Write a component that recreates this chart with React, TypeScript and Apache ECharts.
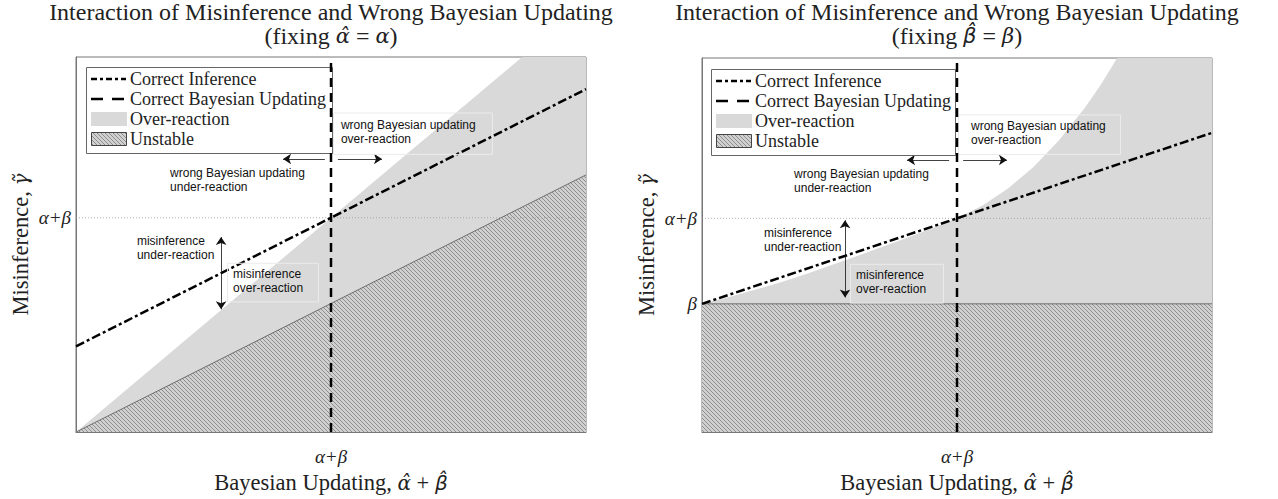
import React, { useEffect, useRef } from "react";
import * as echarts from "echarts";

// ---------- data ----------
const X_MIN = 0;
const X_MAX = 2;
const Y_MIN = 0;
const Y_MAX = 1.75;

const X_TICK_VALUES = [1];
const X_TICK_LABELS = ["α+β"];
const LEFT_Y_TICK_VALUES = [1];
const LEFT_Y_TICK_LABELS = ["α+β"];
const RIGHT_Y_TICK_VALUES = [0.6, 1];
const RIGHT_Y_TICK_LABELS = ["β", "α+β"];

const BAYES_VALUE = 1; // α+β on the x axis
const REFERENCE_VALUE = 1; // α+β on the y axis

const LEFT_INFERENCE_X = [0, 2];
const LEFT_INFERENCE_Y = [0.4, 1.6];
const LEFT_OVER_X = [0, 1.75, 2];
const LEFT_OVER_Y = [0, 1.75, 1.75];
const LEFT_UNSTABLE_X = [0, 2];
const LEFT_UNSTABLE_Y = [0, 1.2];

const RIGHT_INFERENCE_X = [0, 2];
const RIGHT_INFERENCE_Y = [0.6, 1.4];
const RIGHT_OVER_X = [0, 0.1, 0.2, 0.3, 0.4, 0.5, 0.6, 0.7, 0.8, 0.9, 1.0, 1.1, 1.2, 1.3, 1.4, 1.5, 1.56, 1.6, 1.628, 2];
const RIGHT_OVER_Y = [0.6, 0.63, 0.663, 0.698, 0.736, 0.778, 0.82, 0.863, 0.907, 0.953, 1.0, 1.06, 1.14, 1.24, 1.365, 1.515, 1.618, 1.695, 1.75, 1.75];
const RIGHT_UNSTABLE_X = [0, 2];
const RIGHT_UNSTABLE_Y = [0.6, 0.6];

const TITLES = [
  "Interaction of Misinference and Wrong Bayesian Updating\n(fixing {m|\u03B1\u0302} = {m|\u03B1})",
  "Interaction of Misinference and Wrong Bayesian Updating\n(fixing {s|\u03B2\u0302} = {m|\u03B2})",
];
const X_NAME = "Bayesian Updating, {m|\u03B1\u0302} + {s|\u03B2\u0302}";
const Y_NAME = "Misinference, {m|\u03B3\u0303}";
const LEGEND_LABELS = ["Correct Inference", "Correct Bayesian Updating", "Over-reaction", "Unstable"];

const ANNOT_TEXTS = [
  "wrong Bayesian updating\nover-reaction",
  "wrong Bayesian updating\nunder-reaction",
  "misinference\nunder-reaction",
  "misinference\nover-reaction",
];
// anchor (top-left) of each annotation, in data coordinates, per panel
const LEFT_ANNOT_X = [1.039, 0.369, 0.239, 0.616];
const LEFT_ANNOT_Y = [1.464, 1.242, 0.923, 0.771];
const RIGHT_ANNOT_X = [1.055, 0.361, 0.243, 0.604];
const RIGHT_ANNOT_Y = [1.463, 1.241, 0.963, 0.769];
// light frames around two annotations: [x0, y0, x1, y1]
const LEFT_FRAMES = [
  [1.008, 1.491, 1.631, 1.298],
  [0.592, 0.79, 0.949, 0.61],
];
const RIGHT_FRAMES = [
  [1.004, 1.486, 1.639, 1.301],
  [0.58, 0.787, 0.945, 0.606],
];
// arrows: [x0, y0, x1, y1, doubleHeaded]
const LEFT_ARROWS = [
  [0.976, 1.274, 0.812, 1.274, 0],
  [1.027, 1.274, 1.2, 1.274, 0],
  [0.569, 0.91, 0.569, 0.573, 1],
];
const RIGHT_ARROWS = [
  [0.969, 1.273, 0.804, 1.273, 0],
  [1.024, 1.273, 1.196, 1.273, 0],
  [0.561, 0.991, 0.561, 0.63, 1],
];

// ---------- layout ----------
const GRIDS = [
  { left: 76, top: 57, width: 510, height: 379 },
  { left: 702, top: 58, width: 510, height: 378 },
];
const LEGEND_BOX = [
  { x: 86, y: 67, w: 246, h: 86 },
  { x: 711, y: 69, w: 244, h: 86 },
];

const SERIF = "'Liberation Serif', 'Times New Roman', serif";
const MATH = "'DejaVu Serif', serif";
const MATH_B = "'DejaVu Sans', sans-serif";
const SANS = "'Liberation Sans', Arial, Helvetica, sans-serif";
const OVER_COLOR = "#d9d9d9";

const zip = (xs: number[], ys: number[]) => xs.map((x, i) => [x, ys[i]]);

function makeHatch(): HTMLCanvasElement {
  const c = document.createElement("canvas");
  c.width = 4;
  c.height = 4;
  const ctx = c.getContext("2d")!;
  ctx.fillStyle = "#d0d0d0";
  ctx.fillRect(0, 0, 4, 4);
  ctx.fillStyle = "#8e8e8e";
  for (let i = 0; i < 4; i++) ctx.fillRect(i, i, 1, 1);
  return c;
}

const labelFor = (values: number[], labels: string[]) => (v: number) => {
  for (let i = 0; i < values.length; i++) if (Math.abs(values[i] - v) < 1e-6) return labels[i];
  return "";
};

export default function App() {
  const ref = useRef<HTMLDivElement>(null);

  useEffect(() => {
    document.body.style.margin = "0";
    if (!ref.current) return;
    const chart = echarts.init(ref.current, undefined, { renderer: "svg" });
    const hatch = { image: makeHatch(), repeat: "repeat" };

    const panels = [
      {
        inf: zip(LEFT_INFERENCE_X, LEFT_INFERENCE_Y),
        over: zip(LEFT_OVER_X, LEFT_OVER_Y),
        unst: zip(LEFT_UNSTABLE_X, LEFT_UNSTABLE_Y),
        yVals: LEFT_Y_TICK_VALUES,
        yLabs: LEFT_Y_TICK_LABELS,
        arrows: LEFT_ARROWS,
      },
      {
        inf: zip(RIGHT_INFERENCE_X, RIGHT_INFERENCE_Y),
        over: zip(RIGHT_OVER_X, RIGHT_OVER_Y),
        unst: zip(RIGHT_UNSTABLE_X, RIGHT_UNSTABLE_Y),
        yVals: RIGHT_Y_TICK_VALUES,
        yLabs: RIGHT_Y_TICK_LABELS,
        arrows: RIGHT_ARROWS,
      },
    ];

    const series: any[] = [];
    panels.forEach((p, i) => {
      const base = { type: "line", xAxisIndex: i, yAxisIndex: i, showSymbol: false, symbol: "none", silent: true };
      series.push({
        ...base,
        name: "Over-reaction",
        data: p.over,
        lineStyle: { width: 0 },
        areaStyle: { color: OVER_COLOR, opacity: 1 },
        z: 1,
      });
      series.push({
        ...base,
        name: "Unstable",
        data: p.unst,
        lineStyle: { color: "#555", width: 0.8 },
        areaStyle: { color: hatch, opacity: 1 },
        z: 2,
      });
      series.push({
        ...base,
        name: "reference",
        data: [
          [X_MIN, REFERENCE_VALUE],
          [X_MAX, REFERENCE_VALUE],
        ],
        lineStyle: { color: "#999", width: 0.8, type: [1, 2] },
        z: 3,
        markLine: {
          silent: true,
          symbolSize: [8, 8],
          label: { show: false },
          lineStyle: { color: "#111", width: 0.8, type: "solid" },
          data: p.arrows.map((a) => [
            { coord: [a[0], a[1]], symbol: a[4] ? "arrow" : "none" },
            { coord: [a[2], a[3]], symbol: "arrow" },
          ]),
        },
      });
      series.push({
        ...base,
        name: "Correct Inference",
        data: p.inf,
        lineStyle: { color: "#000", width: 2.5, type: [9, 3, 3, 3] },
        z: 4,
      });
      series.push({
        ...base,
        name: "Correct Bayesian Updating",
        data: [
          [BAYES_VALUE, Y_MIN],
          [BAYES_VALUE, Y_MAX],
        ],
        lineStyle: { color: "#000", width: 2.5, type: [9, 6] },
        z: 20,
      });
    });

    const mathRich = (size: number) => ({
      m: { fontFamily: MATH, fontStyle: "italic", fontSize: size, color: "#222", fill: "#222" },
      s: { fontFamily: MATH_B, fontStyle: "italic", fontSize: size, color: "#222", fill: "#222" },
    });

    const nameStyle = {
      fontFamily: SERIF,
      fontSize: 22.5,
      color: "#222",
      rich: mathRich(20),
    };

    const xAxis = GRIDS.map((_, i) => ({
      type: "value",
      gridIndex: i,
      min: X_MIN,
      max: X_MAX,
      splitLine: { show: false },
      axisTick: { show: false },
      axisLine: { show: true, lineStyle: { color: "#777", width: 1 } },
      axisLabel: {
        customValues: X_TICK_VALUES,
        formatter: labelFor(X_TICK_VALUES, X_TICK_LABELS),
        fontFamily: SERIF,
        fontStyle: "italic",
        fontSize: 19,
        color: "#222",
        margin: 15,
      },
      name: X_NAME,
      nameLocation: "middle",
      nameGap: 33,
      nameTextStyle: nameStyle,
    }));
    const yAxis = GRIDS.map((_, i) => ({
      type: "value",
      gridIndex: i,
      min: Y_MIN,
      max: Y_MAX,
      splitLine: { show: false },
      axisTick: { show: false },
      axisLine: { show: true, lineStyle: { color: "#777", width: 1 } },
      axisLabel: {
        customValues: panels[i].yVals,
        formatter: labelFor(panels[i].yVals, panels[i].yLabs),
        fontFamily: SERIF,
        fontStyle: "italic",
        fontSize: 19,
        color: "#222",
        margin: 5,
      },
      name: Y_NAME,
      nameLocation: "middle",
      nameGap: 44,
      nameTextStyle: nameStyle,
    }));

    chart.setOption({
      animation: false,
      backgroundColor: "#fff",
      grid: GRIDS.map((g) => ({
        ...g,
        show: true,
        borderColor: "#777",
        borderWidth: 1,
        backgroundColor: "transparent",
      })),
      xAxis,
      yAxis,
      series,
    });

    // graphic elements (titles, legends, annotations)
    const graphics: any[] = [];
    GRIDS.forEach((g, i) => {
      graphics.push({
        type: "text",
        x: g.left + g.width / 2,
        y: 0,
        z: 30,
        silent: true,
        style: {
          text: TITLES[i],
          font: `24px ${SERIF}`,
          lineHeight: 24,
          fill: "#222",
          align: "center",
          verticalAlign: "top",
          rich: mathRich(21),
        },
      });
      // legend
      const b = LEGEND_BOX[i];
      const ix0 = b.x + 5;
      const ix1 = b.x + 40;
      const tx = b.x + 44;
      const rows = [b.y + 12, b.y + 32, b.y + 52, b.y + 72];
      graphics.push({
        type: "rect",
        z: 10,
        silent: true,
        shape: { x: b.x + 0.5, y: b.y + 0.5, width: b.w, height: b.h },
        style: { fill: "#fff", stroke: "#666", lineWidth: 1 },
      });
      graphics.push({
        type: "line",
        z: 11,
        silent: true,
        shape: { x1: ix0, y1: rows[0], x2: ix1, y2: rows[0] },
        style: { stroke: "#000", lineWidth: 2.5, lineDash: [6, 3, 3, 3] },
      });
      graphics.push({
        type: "line",
        z: 11,
        silent: true,
        shape: { x1: ix0, y1: rows[1], x2: ix1, y2: rows[1] },
        style: { stroke: "#000", lineWidth: 2.5, lineDash: [12, 9] },
      });
      graphics.push({
        type: "rect",
        z: 11,
        silent: true,
        shape: { x: ix0, y: rows[2] - 7, width: 36, height: 14 },
        style: { fill: OVER_COLOR },
      });
      graphics.push({
        type: "rect",
        z: 11,
        silent: true,
        shape: { x: ix0 + 0.5, y: rows[3] - 6.5, width: 35, height: 13 },
        style: { fill: hatch, stroke: "#444", lineWidth: 1 },
      });
      LEGEND_LABELS.forEach((t, k) => {
        graphics.push({
          type: "text",
          z: 12,
          silent: true,
          x: tx,
          y: rows[k],
          style: { text: t, font: `18px ${SERIF}`, fill: "#222", verticalAlign: "middle", align: "left" },
        });
      });
      // annotations
      const ax = i === 0 ? LEFT_ANNOT_X : RIGHT_ANNOT_X;
      const ay = i === 0 ? LEFT_ANNOT_Y : RIGHT_ANNOT_Y;
      ANNOT_TEXTS.forEach((t, k) => {
        const pt = chart.convertToPixel({ gridIndex: i }, [ax[k], ay[k]]) as number[];
        graphics.push({
          type: "text",
          z: 12,
          silent: true,
          x: pt[0],
          y: pt[1],
          style: { text: t, font: `12px ${SANS}`, lineHeight: 14, fill: "#111", align: "left", verticalAlign: "top" },
        });
      });
      const frames = i === 0 ? LEFT_FRAMES : RIGHT_FRAMES;
      frames.forEach((f) => {
        const p0 = chart.convertToPixel({ gridIndex: i }, [f[0], f[1]]) as number[];
        const p1 = chart.convertToPixel({ gridIndex: i }, [f[2], f[3]]) as number[];
        graphics.push({
          type: "rect",
          z: 9,
          silent: true,
          shape: { x: p0[0] + 0.5, y: p0[1] + 0.5, width: p1[0] - p0[0], height: p1[1] - p0[1] },
          style: { fill: "none", stroke: "#ebebeb", lineWidth: 1 },
        });
      });
    });
    chart.setOption({ graphic: graphics });

    return () => chart.dispose();
  }, []);

  return <div ref={ref} style={{ width: 1278, height: 499 }} />;
}
